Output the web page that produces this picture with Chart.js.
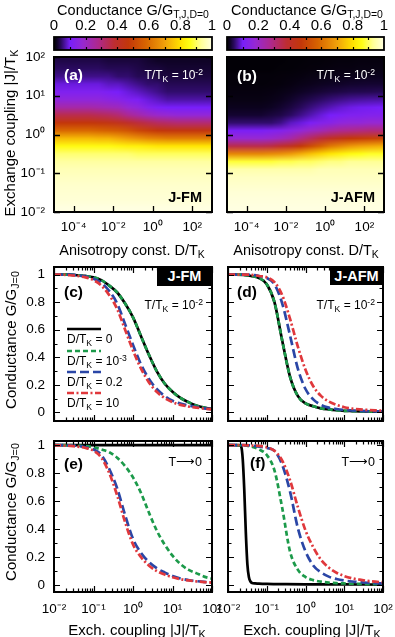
<!DOCTYPE html>
<html><head><meta charset="utf-8">
<script src="https://cdn.jsdelivr.net/npm/chart.js@4.4.0/dist/chart.umd.min.js"></script>
<style>
html,body{margin:0;padding:0;background:#fff;}
#wrap{position:relative;width:395px;height:637px;overflow:hidden;background:#fff;font-family:"Liberation Sans",Arial,Helvetica,sans-serif;color:#000;}
canvas{position:absolute;}
.t{position:absolute;white-space:nowrap;line-height:1;z-index:5;}
.t sub{font-size:72%;vertical-align:-0.32em;line-height:0;}
.t sup{font-size:72%;vertical-align:0.5em;line-height:0;}
.b{font-weight:bold;}
.w{color:#fff;}
.box{position:absolute;background:#000;color:#fff;font-weight:bold;z-index:5;display:flex;align-items:center;justify-content:center;line-height:1;}
</style></head><body><div id="wrap"></div>
<script>
// ================= DATA =================
// Heatmap cell edges
const D_EDGES = [1e-5, 3.16e-5, 1e-4, 3.16e-4, 1e-3, 3.16e-3, 0.01, 0.0316, 0.1, 0.316, 1, 3.16, 10, 31.6, 100, 316, 1000];
const J_EDGES = [0.01, 0.0158, 0.0251, 0.0398, 0.0631, 0.1, 0.158, 0.251, 0.398, 0.631, 1, 1.585, 2.512, 3.981, 6.31, 10, 15.85, 25.12, 39.81, 63.1, 100];

// (a) J-FM heatmap: rows from small |J| (bottom) to large |J| (top), columns along D
const G_MAP_FM = [
 [1,1,1,1,1,1,1,1,1,1,1,1,1,1,1,1],
 [.99,.99,.99,.99,.99,.99,.99,.99,.99,.99,.99,.99,.99,.99,.99,.99],
 [.985,.985,.985,.985,.985,.985,.985,.985,.985,.985,.985,.985,.985,.985,.985,.985],
 [.98,.98,.98,.98,.98,.98,.98,.98,.98,.98,.98,.98,.98,.98,.98,.98],
 [.97,.97,.97,.97,.97,.97,.97,.97,.97,.97,.97,.97,.97,.97,.97,.97],
 [.96,.96,.96,.96,.96,.96,.96,.96,.96,.96,.96,.96,.96,.96,.96,.96],
 [.94,.94,.94,.94,.94,.94,.94,.94,.94,.94,.94,.94,.94,.94,.94,.94],
 [.91,.91,.91,.91,.91,.91,.91,.91,.90,.90,.90,.90,.90,.90,.90,.90],
 [.85,.85,.85,.85,.85,.85,.84,.83,.83,.82,.81,.81,.81,.81,.81,.81],
 [.74,.74,.74,.74,.73,.73,.71,.69,.67,.65,.64,.63,.63,.63,.63,.63],
 [.59,.59,.59,.59,.58,.57,.56,.54,.51,.49,.47,.46,.46,.46,.46,.46],
 [.47,.47,.47,.47,.46,.45,.43,.40,.37,.35,.33,.32,.31,.31,.31,.31],
 [.35,.35,.35,.35,.34,.33,.31,.27,.24,.21,.19,.18,.17,.17,.17,.17],
 [.24,.24,.24,.24,.23,.22,.21,.18,.16,.13,.11,.10,.10,.10,.10,.10],
 [.16,.16,.16,.16,.16,.15,.14,.12,.11,.09,.08,.07,.07,.07,.07,.07],
 [.12,.12,.12,.12,.12,.11,.10,.09,.08,.07,.06,.05,.05,.05,.05,.05],
 [.09,.09,.09,.09,.09,.08,.08,.07,.06,.05,.05,.04,.04,.04,.04,.04],
 [.06,.06,.06,.06,.06,.06,.05,.05,.04,.04,.03,.03,.03,.03,.03,.03],
 [.045,.045,.045,.045,.045,.04,.04,.04,.035,.03,.03,.025,.025,.025,.025,.025],
 [.035,.035,.035,.035,.035,.03,.03,.03,.03,.025,.02,.02,.02,.02,.02,.02]
];

// (b) J-AFM heatmap
const G_MAP_AFM = [
 [1,1,1,1,1,1,1,1,1,1,1,1,1,1,1,1],
 [.995,.995,.995,.995,.995,.995,.995,.995,.995,.995,.995,.995,.995,.995,.995,.995],
 [.99,.99,.99,.99,.99,.99,.99,.99,.99,.99,.99,.99,.99,.99,.99,.99],
 [.98,.98,.98,.98,.98,.98,.98,.98,.98,.98,.98,.98,.98,.98,.98,.98],
 [.97,.97,.97,.97,.97,.97,.97,.97,.97,.97,.97,.97,.97,.97,.97,.97],
 [.95,.95,.95,.95,.95,.95,.95,.95,.95,.96,.96,.96,.96,.96,.96,.96],
 [.88,.88,.88,.88,.88,.89,.89,.90,.90,.91,.92,.92,.93,.93,.93,.93],
 [.65,.65,.65,.65,.66,.67,.69,.72,.75,.78,.81,.83,.85,.86,.87,.87],
 [.35,.35,.35,.35,.36,.39,.42,.47,.52,.57,.62,.65,.68,.70,.71,.72],
 [.18,.18,.18,.18,.19,.21,.24,.29,.33,.37,.41,.44,.47,.48,.49,.50],
 [.11,.11,.11,.11,.12,.13,.15,.17,.20,.22,.25,.27,.28,.29,.30,.30],
 [.05,.05,.05,.05,.05,.06,.08,.09,.11,.13,.14,.16,.17,.17,.18,.18],
 [.025,.025,.025,.025,.03,.035,.046,.06,.074,.088,.10,.11,.12,.125,.128,.13],
 [.015,.015,.015,.015,.018,.024,.032,.043,.055,.066,.076,.085,.092,.096,.098,.10],
 [.01,.01,.01,.01,.012,.016,.022,.03,.038,.046,.053,.059,.064,.067,.069,.07],
 [.008,.008,.008,.008,.009,.011,.014,.019,.023,.027,.031,.034,.037,.038,.039,.04],
 [.005,.005,.005,.005,.006,.007,.009,.012,.014,.017,.019,.021,.023,.024,.025,.025],
 [.005,.005,.005,.005,.005,.006,.007,.008,.01,.011,.012,.013,.014,.015,.015,.015],
 [.003,.003,.003,.003,.003,.004,.004,.005,.006,.007,.008,.009,.009,.01,.01,.01],
 [.003,.003,.003,.003,.003,.003,.004,.004,.005,.005,.006,.007,.007,.008,.008,.008]
];

// Line plots: |J|/T_K sample points
const J_X = [0.01, 0.0158, 0.0251, 0.0398, 0.0631, 0.1, 0.158, 0.251, 0.398, 0.631, 1, 1.585, 2.512, 3.981, 6.31, 10, 15.85, 25.12, 39.81, 63.1, 100];

// (c) J-FM, T/T_K = 1e-2
const C_D0    = [1,1,1,.995,.99,.98,.96,.92,.87,.79,.69,.555,.42,.30,.21,.15,.105,.075,.05,.035,.025];
const C_D1EM3 = [1,1,1,.995,.99,.98,.96,.92,.87,.79,.69,.555,.42,.30,.21,.15,.105,.075,.05,.035,.025];
const C_D02   = [1,1,1,.995,.985,.97,.94,.88,.79,.64,.49,.35,.245,.17,.12,.085,.065,.05,.04,.03,.025];
const C_D10   = [1,1,.995,.99,.98,.96,.92,.85,.75,.60,.45,.32,.22,.15,.105,.075,.055,.043,.035,.028,.022];

// (d) J-AFM, T/T_K = 1e-2
const D_D0    = [1,1,.998,.99,.975,.93,.80,.52,.26,.12,.065,.045,.03,.022,.016,.012,.01,.008,.007,.006,.005];
const D_D1EM3 = [1,1,.998,.99,.975,.93,.80,.52,.26,.12,.065,.045,.03,.022,.016,.012,.01,.008,.007,.006,.005];
const D_D02   = [1,1,1,.998,.99,.975,.93,.79,.56,.32,.17,.095,.055,.035,.025,.018,.014,.011,.009,.008,.007];
const D_D10   = [1,1,1,.998,.99,.98,.945,.85,.68,.48,.31,.19,.12,.08,.055,.038,.028,.022,.018,.015,.013];

// (e) J-FM, T -> 0
const E_D0    = [1,1,1,1,1,1,1,1,1,1,1,1,1,1,1,1,1,1,1,1,1];
const E_D1EM3 = [1,1,1,.997,.993,.985,.97,.95,.91,.85,.77,.66,.52,.39,.29,.21,.15,.11,.085,.06,.045];
const E_D02   = [1,1,.998,.995,.985,.97,.93,.83,.69,.50,.33,.23,.165,.12,.09,.065,.047,.036,.028,.022,.018];
const E_D10   = [1,.998,.995,.99,.98,.96,.91,.80,.64,.45,.29,.20,.14,.10,.075,.055,.042,.033,.026,.021,.017];

// (f) J-AFM, T -> 0 (D=0 curve has its own, denser sampling around its sharp drop)
const F_D0_X  = [0.01, 0.0158, 0.02, 0.0219, 0.024, 0.0263, 0.0288, 0.0316, 0.0347, 0.038, 0.0417, 0.05, 0.063, 0.1, 0.316, 1, 10, 100];
const F_D0    = [1, 1, .998, .99, .9, .68, .38, .15, .055, .025, .015, .012, .01, .008, .006, .005, .004, .003];
const F_D1EM3 = [1,1,.998,.99,.97,.93,.82,.55,.24,.11,.057,.035,.024,.017,.013,.011,.009,.008,.007,.006,.005];
const F_D02   = [1,1,1,.998,.99,.98,.96,.86,.67,.41,.24,.14,.09,.06,.043,.032,.025,.02,.016,.013,.011];
const F_D10   = [1,1,1,.998,.995,.985,.96,.89,.75,.56,.39,.27,.18,.125,.088,.064,.048,.038,.03,.024,.019];

// Ticks
const LOG_TICKS_J = [0.01, 0.1, 1, 10, 100];
const LOG_LABELS_J = ['10\u207B\u00B2', '10\u207B\u00B9', '10\u2070', '10\u00B9', '10\u00B2'];
const LOG_TICKS_D = [1e-4, 1e-2, 1, 100];
const LOG_LABELS_D = ['10\u207B\u2074', '10\u207B\u00B2', '10\u2070', '10\u00B2'];
const G_TICKS = [0, 0.2, 0.4, 0.6, 0.8, 1];
const G_LABELS = ['0', '0.2', '0.4', '0.6', '0.8', '1'];

// ================= STYLE =================
const FONT = '"Liberation Sans", Arial, Helvetica, sans-serif';
Chart.defaults.font.family = FONT;
Chart.defaults.color = '#000';
const STYLES = [
  {color:'#000000', dash:[], order:4},
  {color:'#1c9a4a', dash:[5,3], order:3},
  {color:'#2a46a6', dash:[9,4], order:2},
  {color:'#e0383c', dash:[7,2.5,2,2.5], order:1}
];
const CMAP = [[0,0,0,0],[0.02,15,3,38],[0.045,42,10,95],[0.1,120,30,250],[0.18,150,40,210],[0.28,175,40,140],[0.38,190,45,50],[0.47,195,55,10],[0.58,215,100,0],[0.7,240,160,10],[0.8,255,225,0],[0.86,255,255,20],[0.93,255,255,150],[1,255,255,225]];
function cmap(v){
  v = Math.max(0, Math.min(1, v));
  for (let i = 1; i < CMAP.length; i++) {
    if (v <= CMAP[i][0]) {
      const a = CMAP[i-1], b = CMAP[i], t = (v - a[0]) / (b[0] - a[0]);
      return 'rgb(' + [1,2,3].map(k => Math.round(a[k] + t*(b[k]-a[k]))).join(',') + ')';
    }
  }
  return 'rgb(255,255,225)';
}

const wrap = document.getElementById('wrap');
function addCanvas(x, y, w, h){
  const c = document.createElement('canvas');
  c.width = w; c.height = h;
  c.style.cssText = `left:${x}px;top:${y}px;width:${w}px;height:${h}px;`;
  wrap.appendChild(c);
  return c;
}
function txt(html, x, y, o = {}){
  const d = document.createElement('div');
  d.className = 't ' + (o.cls || '');
  d.innerHTML = html;
  d.style.fontSize = (o.size || 14) + 'px';
  d.style.left = x + 'px'; d.style.top = y + 'px';
  const al = o.align || 'c';
  const tx = al === 'l' ? '0' : al === 'r' ? '-100%' : '-50%';
  d.style.transform = `translate(${tx},-50%)` + (o.rot ? ' rotate(-90deg)' : '');
  wrap.appendChild(d);
}
function boxLabel(text, x, y, w, h, size){
  const d = document.createElement('div');
  d.className = 'box';
  d.textContent = text;
  d.style.cssText += `left:${x}px;top:${y}px;width:${w}px;height:${h}px;font-size:${size}px;`;
  wrap.appendChild(d);
}

function margins(cb, pb){
  return {L: pb.x0 - cb.x, T: pb.y0 - cb.y, R: cb.x + cb.w - pb.x1, B: cb.y + cb.h - pb.y1};
}
function axisX(type, min, max, ticks, labels, show, B, pad, pos, fsize){
  return {
    type, min, max, position: pos || 'bottom',
    afterBuildTicks: s => { s.ticks = ticks.map(v => ({value: v})); },
    afterFit: s => { s.height = B; s.paddingLeft = 0; s.paddingRight = 0; },
    grid: {display: false, drawTicks: false}, border: {display: false},
    ticks: {display: show, autoSkip: false, maxRotation: 0, minRotation: 0, padding: pad, font: {size: fsize || 13.5}, color: '#000',
      callback: (v, i) => labels[i]}
  };
}
function axisY(type, min, max, ticks, labels, show, L){
  return {
    type, min, max,
    afterBuildTicks: s => { s.ticks = ticks.map(v => ({value: v})); },
    afterFit: s => { s.width = L; s.paddingTop = 0; s.paddingBottom = 0; },
    grid: {display: false, drawTicks: false}, border: {display: false},
    ticks: {display: show, autoSkip: false, padding: 9, font: {size: 13.5}, color: '#000',
      callback: (v, i) => labels[i]}
  };
}

const lineFrame = {
  id: 'lineFrame',
  afterDatasetsDraw(chart){
    const {ctx, chartArea: a, scales: {x, y}} = chart;
    ctx.save();
    ctx.strokeStyle = '#000'; ctx.lineWidth = 1.2; ctx.setLineDash([]);
    ctx.beginPath();
    for (let e = -2; e <= 2; e++) {
      for (let m = 1; m <= 9; m++) {
        const v = m * Math.pow(10, e);
        if (v > 100.001) break;
        const p = Math.round(x.getPixelForValue(v)) + 0.5;
        const len = m === 1 ? 6 : 3.5;
        ctx.moveTo(p, a.bottom); ctx.lineTo(p, a.bottom - len);
        ctx.moveTo(p, a.top); ctx.lineTo(p, a.top + len);
      }
    }
    for (let k = 0; k <= 10; k++) {
      const p = Math.round(y.getPixelForValue(k / 10)) + 0.5;
      const len = k % 2 === 0 ? 6 : 3.5;
      ctx.moveTo(a.left, p); ctx.lineTo(a.left + len, p);
      ctx.moveTo(a.right, p); ctx.lineTo(a.right - len, p);
    }
    ctx.stroke();
    ctx.lineWidth = 2;
    ctx.strokeRect(a.left, a.top, a.width, a.height);
    ctx.restore();
  }
};

function mkLine(cb, pb, series, yr, showX, showY, extra){
  const m = margins(cb, pb);
  const c = addCanvas(cb.x, cb.y, cb.w, cb.h);
  const datasets = series.map((s, i) => ({
    data: s.xs.map((xv, k) => ({x: xv, y: s.ys[k]})),
    borderColor: STYLES[i].color, borderDash: STYLES[i].dash, order: STYLES[i].order,
    borderWidth: 2.7, pointRadius: 0, fill: false, cubicInterpolationMode: 'monotone'
  }));
  return new Chart(c, {
    type: 'line',
    data: {datasets},
    options: {
      responsive: false, animation: false, devicePixelRatio: 1,
      layout: {padding: {top: m.T, right: m.R, left: 0, bottom: 0}},
      plugins: {legend: {display: false}, tooltip: {enabled: false}},
      scales: {
        x: axisX('logarithmic', 0.01, 100, LOG_TICKS_J, LOG_LABELS_J, showX, m.B, 9),
        y: axisY('linear', yr[0], yr[1], G_TICKS, G_LABELS, showY, m.L)
      }
    },
    plugins: [lineFrame].concat(extra || [])
  });
}

function mkHeat(cb, pb, grid, showY){
  const m = margins(cb, pb);
  const c = addCanvas(cb.x, cb.y, cb.w, cb.h);
  const heat = {
    id: 'heat',
    beforeDatasetsDraw(chart){
      const {ctx, chartArea: a, scales: {x, y}} = chart;
      // one texel per data cell, shaded smoothly when placed on the scales
      const nr = grid.length, nc = grid[0].length;
      const off = document.createElement('canvas');
      off.width = nc; off.height = nr;
      const o = off.getContext('2d');
      for (let r = 0; r < nr; r++) for (let k = 0; k < nc; k++) {
        o.fillStyle = cmap(grid[r][k]);
        o.fillRect(k, nr - 1 - r, 1, 1);
      }
      const x0 = x.getPixelForValue(D_EDGES[0]), x1 = x.getPixelForValue(D_EDGES[nc]);
      const yTop = y.getPixelForValue(J_EDGES[nr]), yBot = y.getPixelForValue(J_EDGES[0]);
      ctx.save();
      ctx.beginPath(); ctx.rect(a.left, a.top, a.width, a.height); ctx.clip();
      ctx.imageSmoothingEnabled = true;
      ctx.imageSmoothingQuality = 'medium';
      ctx.drawImage(off, x0, yTop, x1 - x0, yBot - yTop);
      ctx.restore();
    },
    afterDatasetsDraw(chart){
      const {ctx, chartArea: a, scales: {x, y}} = chart;
      ctx.save();
      ctx.strokeStyle = '#000'; ctx.lineWidth = 1.3;
      ctx.beginPath();
      LOG_TICKS_D.forEach(v => { const p = Math.round(x.getPixelForValue(v)) + 0.5; ctx.moveTo(p, a.bottom); ctx.lineTo(p, a.bottom - 6); });
      LOG_TICKS_J.forEach(v => { const p = Math.round(y.getPixelForValue(v)) + 0.5; ctx.moveTo(a.left, p); ctx.lineTo(a.left + 6, p); ctx.moveTo(a.right, p); ctx.lineTo(a.right - 6, p); });
      ctx.stroke();
      ctx.lineWidth = 2;
      ctx.strokeRect(a.left, a.top, a.width, a.height);
      ctx.restore();
    }
  };
  return new Chart(c, {
    type: 'scatter',
    data: {datasets: [{data: []}]},
    options: {
      responsive: false, animation: false, devicePixelRatio: 1,
      layout: {padding: {top: m.T, right: m.R, left: 0, bottom: 0}},
      plugins: {legend: {display: false}, tooltip: {enabled: false}},
      scales: {
        x: axisX('logarithmic', 1e-5, 1e3, LOG_TICKS_D, LOG_LABELS_D, true, m.B, 7),
        y: axisY('logarithmic', 0.01, 100, LOG_TICKS_J, LOG_LABELS_J, showY, m.L)
      }
    },
    plugins: [heat]
  });
}

function mkBar(cb, pb){
  const m = margins(cb, pb);
  const c = addCanvas(cb.x, cb.y, cb.w, cb.h);
  const bar = {
    id: 'cbar',
    afterDatasetsDraw(chart){
      const {ctx, chartArea: a, scales: {x}} = chart;
      const g = ctx.createLinearGradient(x.getPixelForValue(0), 0, x.getPixelForValue(1), 0);
      CMAP.forEach(s => g.addColorStop(s[0], `rgb(${s[1]},${s[2]},${s[3]})`));
      ctx.save();
      ctx.fillStyle = g;
      ctx.fillRect(a.left, a.top, a.width, a.height);
      ctx.strokeStyle = '#000'; ctx.lineWidth = 1.2;
      ctx.beginPath();
      for (let k = 1; k < 10; k++) {
        const p = Math.round(x.getPixelForValue(k / 10)) + 0.5;
        ctx.moveTo(p, a.top); ctx.lineTo(p, a.top + 3);
        ctx.moveTo(p, a.bottom); ctx.lineTo(p, a.bottom - 3);
      }
      ctx.stroke();
      ctx.lineWidth = 1.8;
      ctx.strokeRect(a.left, a.top, a.width, a.height);
      ctx.restore();
    }
  };
  return new Chart(c, {
    type: 'scatter',
    data: {datasets: [{data: []}]},
    options: {
      responsive: false, animation: false, devicePixelRatio: 1,
      layout: {padding: {top: 0, right: m.R, left: 0, bottom: m.B}},
      plugins: {legend: {display: false}, tooltip: {enabled: false}},
      scales: {
        x: axisX('linear', 0, 1, G_TICKS, G_LABELS, true, m.T, 2, 'top', 15),
        y: {type: 'linear', min: 0, max: 1, afterFit: s => { s.width = m.L; s.paddingTop = 0; s.paddingBottom = 0; },
            grid: {display: false, drawTicks: false}, border: {display: false}, ticks: {display: false}}
      }
    },
    plugins: [bar]
  });
}

// ================= BUILD =================
mkBar({x:40, y:14, w:186, h:39}, {x0:54, y0:37, x1:212, y1:50});
mkBar({x:213, y:14, w:185, h:39}, {x0:227, y0:37, x1:384, y1:50});
mkHeat({x:0, y:52, w:216, h:190}, {x0:54, y0:57, x1:212, y1:212}, G_MAP_FM, true);
mkHeat({x:216, y:52, w:172, h:190}, {x0:227, y0:57, x1:384, y1:212}, G_MAP_AFM, false);

const legendLines = {
  id: 'legendLines',
  afterDatasetsDraw(chart){
    const ctx = chart.ctx, ox = 0, oy = 262;
    const ys = [329, 351, 372, 393];
    ctx.save();
    STYLES.forEach((s, i) => {
      ctx.strokeStyle = s.color; ctx.lineWidth = 2.7; ctx.setLineDash(s.dash);
      ctx.beginPath(); ctx.moveTo(67 - ox, ys[i] - oy); ctx.lineTo(101 - ox, ys[i] - oy); ctx.stroke();
    });
    ctx.restore();
  }
};

const YR_T = [-0.062, 1.055], YR_0 = [-0.05, 1.03];
mkLine({x:0, y:262, w:216, h:163}, {x0:54, y0:267, x1:212, y1:421},
  [{xs:J_X, ys:C_D0}, {xs:J_X, ys:C_D1EM3}, {xs:J_X, ys:C_D02}, {xs:J_X, ys:C_D10}], YR_T, false, true, [legendLines]);
mkLine({x:216, y:262, w:171, h:163}, {x0:228, y0:267, x1:383, y1:421},
  [{xs:J_X, ys:D_D0}, {xs:J_X, ys:D_D1EM3}, {xs:J_X, ys:D_D02}, {xs:J_X, ys:D_D10}], YR_T, false, false);
mkLine({x:0, y:436, w:228, h:186}, {x0:54, y0:441, x1:212, y1:592},
  [{xs:J_X, ys:E_D0}, {xs:J_X, ys:E_D1EM3}, {xs:J_X, ys:E_D02}, {xs:J_X, ys:E_D10}], YR_0, true, true);
mkLine({x:212, y:436, w:183, h:186}, {x0:228, y0:441, x1:383, y1:592},
  [{xs:F_D0_X, ys:F_D0}, {xs:J_X, ys:F_D1EM3}, {xs:J_X, ys:F_D02}, {xs:J_X, ys:F_D10}], YR_0, true, false);

// ================= TEXT =================
txt('Conductance G/G<sub>T,J,D=0</sub>', 133, 10, {size:14.5});
txt('Conductance G/G<sub>T,J,D=0</sub>', 307, 10, {size:14.5});
txt('Exchange coupling |J|/T<sub>K</sub>', 9, 133, {size:15, rot:true});
txt('Anisotropy const. D/T<sub>K</sub>', 132, 250, {size:14.5});
txt('Anisotropy const. D/T<sub>K</sub>', 306, 250, {size:14.5});
txt('Conductance G/G<sub>J=0</sub>', 10, 340, {size:15, rot:true});
txt('Conductance G/G<sub>J=0</sub>', 10, 512, {size:15, rot:true});
txt('Exch. coupling |J|/T<sub>K</sub>', 137, 629, {size:15});
txt('Exch. coupling |J|/T<sub>K</sub>', 312, 629, {size:15});

txt('(a)', 64, 75, {align:'l', size:15.5, cls:'b w'});
txt('T/T<sub>K</sub> = 10<sup>-2</sup>', 203, 75, {align:'r', size:12, cls:'w'});
txt('J-FM', 202, 197, {align:'r', size:14.5, cls:'b'});
txt('(b)', 237, 76, {align:'l', size:15.5, cls:'b w'});
txt('T/T<sub>K</sub> = 10<sup>-2</sup>', 375, 75, {align:'r', size:12, cls:'w'});
txt('J-AFM', 375, 197, {align:'r', size:14.5, cls:'b'});

txt('(c)', 64, 292, {align:'l', size:15.5, cls:'b'});
boxLabel('J-FM', 157, 267, 55, 19, 14.5);
txt('T/T<sub>K</sub> = 10<sup>-2</sup>', 203, 305, {align:'r', size:12});
txt('(d)', 237, 292, {align:'l', size:15.5, cls:'b'});
boxLabel('J-AFM', 330, 267, 53, 18, 14.5);
txt('T/T<sub>K</sub> = 10<sup>-2</sup>', 375, 305, {align:'r', size:12});

txt('D/T<sub>K</sub> = 0', 67, 339, {align:'l', size:12});
txt('D/T<sub>K</sub> = 10<sup>-3</sup>', 67, 361, {align:'l', size:12});
txt('D/T<sub>K</sub> = 0.2', 67, 382, {align:'l', size:12});
txt('D/T<sub>K</sub> = 10', 67, 403, {align:'l', size:12});

txt('(e)', 64, 464, {align:'l', size:15.5, cls:'b'});
txt('T\u27F60', 202, 462, {align:'r', size:12.5});
txt('(f)', 250, 463, {align:'l', size:15.5, cls:'b'});
txt('T\u27F60', 375, 462, {align:'r', size:12.5});
</script></body></html>
